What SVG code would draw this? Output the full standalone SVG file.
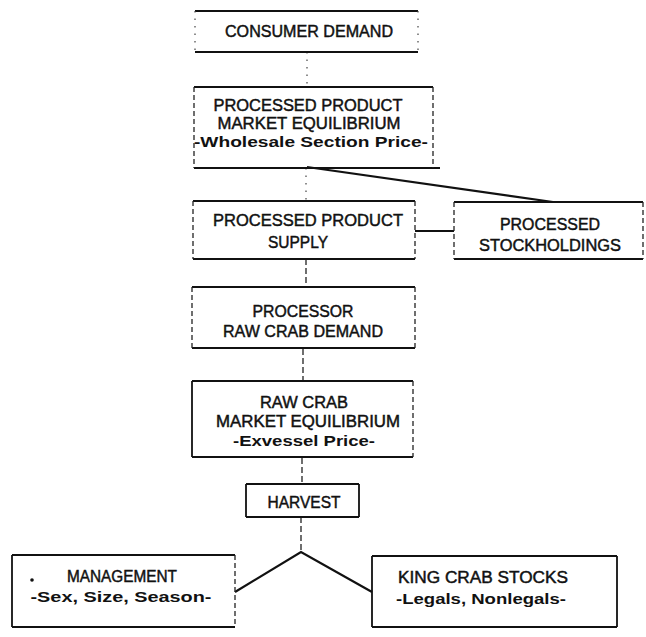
<svg xmlns="http://www.w3.org/2000/svg" width="646" height="637" viewBox="0 0 646 637">
<style>
.tb{fill:none;stroke:#111;stroke-width:2.2}
.sd{fill:none;stroke:#222;stroke-width:1.3;stroke-dasharray:5 3}
.ss{fill:none;stroke:#111;stroke-width:1.8}
.t{font-family:"Liberation Sans",Arial,sans-serif;font-size:16px;fill:#111;stroke:#111;stroke-width:0.45;text-anchor:middle}
.s{font-family:"Liberation Sans",Arial,sans-serif;font-size:15px;font-weight:bold;fill:#111;text-anchor:middle}
.dot{fill:none;stroke:#444;stroke-width:1.2;stroke-dasharray:1.5 6}
.dash{fill:none;stroke:#222;stroke-width:1.3;stroke-dasharray:6 3}
.solid{fill:none;stroke:#111;stroke-width:2.2}
</style>
<rect width="646" height="637" fill="#fff"/>
<g id="connectors">
<line class="dot" x1="307" y1="52" x2="307" y2="87"/>
<line class="dot" x1="306" y1="168" x2="306" y2="201"/>
<line class="solid" x1="307" y1="167" x2="553" y2="202"/>
<line class="solid" x1="415" y1="231" x2="454" y2="231"/>
<line class="dash" x1="306" y1="259" x2="306" y2="288"/>
<line class="dash" x1="303" y1="349" x2="303" y2="381"/>
<line class="dash" x1="302" y1="458" x2="302" y2="484"/>
<line class="dash" x1="301" y1="517" x2="301" y2="552"/>
<polyline class="solid" points="235,592 301,552 372,592"/>
</g>
<g id="consumer-demand">
<path class="tb" d="M195 11H418M195 52H418"/>
<path class="dot" d="M195 11V52M418 11V52"/>
<text class="t" x="309" y="37" textLength="168" lengthAdjust="spacingAndGlyphs">CONSUMER DEMAND</text>
</g>
<g id="processed-market-equilibrium">
<path class="tb" d="M194 87H433M194 168H440"/>
<path class="sd" d="M194 87V168M433 87V168"/>
<text class="t" x="308" y="111" textLength="189" lengthAdjust="spacingAndGlyphs">PROCESSED PRODUCT</text>
<text class="t" x="309" y="129" textLength="183" lengthAdjust="spacingAndGlyphs">MARKET EQUILIBRIUM</text>
<text class="s" x="311" y="147" textLength="234" lengthAdjust="spacingAndGlyphs">-Wholesale Section Price-</text>
</g>
<g id="processed-supply">
<path class="tb" d="M193 201H415M193 259H415"/>
<path class="sd" d="M193 201V259M415 201V259"/>
<text class="t" x="308" y="226" textLength="190" lengthAdjust="spacingAndGlyphs">PROCESSED PRODUCT</text>
<text class="t" x="298" y="248" textLength="60" lengthAdjust="spacingAndGlyphs">SUPPLY</text>
</g>
<g id="processed-stockholdings">
<path class="tb" d="M454 202H643M454 259H643"/>
<path class="sd" d="M454 202V259M643 202V259"/>
<text class="t" x="550" y="230" textLength="100" lengthAdjust="spacingAndGlyphs">PROCESSED</text>
<text class="t" x="550" y="251" textLength="142" lengthAdjust="spacingAndGlyphs">STOCKHOLDINGS</text>
</g>
<g id="processor-demand">
<path class="tb" d="M192 287H415M192 348H415"/>
<path class="sd" d="M192 287V348M415 287V348"/>
<text class="t" x="303" y="317" textLength="101" lengthAdjust="spacingAndGlyphs">PROCESSOR</text>
<text class="t" x="303" y="337" textLength="160" lengthAdjust="spacingAndGlyphs">RAW CRAB DEMAND</text>
</g>
<g id="raw-crab-equilibrium">
<path class="tb" d="M192 381H413M192 457H413"/>
<path class="ss" d="M192 381V457"/>
<path class="sd" d="M413 381V457"/>
<text class="t" x="304" y="408" textLength="88" lengthAdjust="spacingAndGlyphs">RAW CRAB</text>
<text class="t" x="308" y="427" textLength="184" lengthAdjust="spacingAndGlyphs">MARKET EQUILIBRIUM</text>
<text class="s" x="304" y="446" textLength="142" lengthAdjust="spacingAndGlyphs">-Exvessel Price-</text>
</g>
<g id="harvest">
<path class="tb" d="M246 484H359M246 517H359"/>
<path class="ss" d="M246 484V517M359 484V517"/>
<text class="t" x="304" y="508" textLength="73" lengthAdjust="spacingAndGlyphs">HARVEST</text>
</g>
<g id="management">
<path class="tb" d="M12 555H235M12 627H235"/>
<path class="ss" d="M12 555V627"/>
<path class="sd" d="M235 555V627"/>
<circle cx="32" cy="580" r="1.8" fill="#111"/>
<text class="t" x="122" y="582" textLength="110" lengthAdjust="spacingAndGlyphs">MANAGEMENT</text>
<text class="s" x="121" y="602" textLength="181" lengthAdjust="spacingAndGlyphs">-Sex, Size, Season-</text>
</g>
<g id="king-crab-stocks">
<path class="tb" d="M372 556H617M372 627H617"/>
<path class="ss" d="M372 556V627M617 556V627"/>
<text class="t" x="483" y="583" textLength="170" lengthAdjust="spacingAndGlyphs">KING CRAB STOCKS</text>
<text class="s" x="481" y="604" textLength="170" lengthAdjust="spacingAndGlyphs">-Legals, Nonlegals-</text>
</g>
</svg>
